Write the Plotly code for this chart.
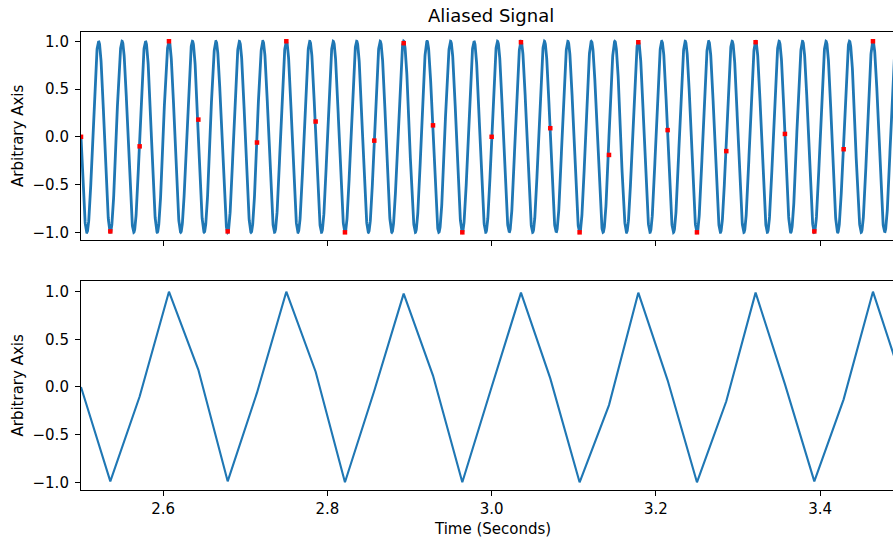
import numpy as np
import plotly.graph_objects as go

# ---- data ----
# continuous signal: a unit-amplitude sine at 35 cycles per second
signal_freq_hz = 35.0
signal_amplitude = 1.0

# sample instants (about 28 per second) and sampled values
sample_times = [2.5000, 2.5357, 2.5714, 2.6071, 2.6429, 2.6786, 2.7143, 2.7500,
                2.7857, 2.8214, 2.8571, 2.8929, 2.9286, 2.9643, 3.0000, 3.0357,
                3.0714, 3.1071, 3.1429, 3.1786, 3.2143, 3.2500, 3.2857, 3.3214,
                3.3571, 3.3929, 3.4286, 3.4643, 3.5000]
sample_values = [0.00, -0.99, -0.10, 1.00, 0.18, -0.99, -0.06, 1.00,
                 0.16, -1.00, -0.04, 0.98, 0.12, -1.00, 0.00, 0.99,
                 0.09, -1.00, -0.19, 0.99, 0.07, -1.00, -0.15, 0.99,
                 0.03, -0.99, -0.13, 1.00, 0.06]

x_tick_vals = [2.6, 2.8, 3.0, 3.2, 3.4]
x_tick_text = ["2.6", "2.8", "3.0", "3.2", "3.4"]
y_tick_vals = [-1.0, -0.5, 0.0, 0.5, 1.0]
y_tick_text = ["\u22121.0", "\u22120.5", "0.0", "0.5", "1.0"]

title_text = "Aliased Signal"
x_label = "Time (Seconds)"
y_label = "Arbitrary Axis"

# ---- figure ----
t_dense = np.linspace(2.5, 3.5, 6001)
y_dense = signal_amplitude * np.sin(2 * np.pi * signal_freq_hz * t_dense)

BLUE = "#1f77b4"
FONT = "DejaVu Sans"
FS = 15

fig = go.Figure()
fig.add_trace(go.Scatter(x=t_dense, y=y_dense, mode="lines",
                         line=dict(color=BLUE, width=2.8),
                         xaxis="x", yaxis="y", hoverinfo="skip"))
fig.add_trace(go.Scatter(x=sample_times, y=sample_values, mode="markers",
                         marker=dict(color="red", symbol="square", size=4.5,
                                     line=dict(width=0)),
                         xaxis="x", yaxis="y"))
fig.add_trace(go.Scatter(x=sample_times, y=sample_values, mode="lines",
                         line=dict(color=BLUE, width=2.1),
                         xaxis="x2", yaxis="y2"))

x_range = [2.5, 3.4887]
axis_common = dict(showgrid=False, zeroline=False, showline=True,
                   linecolor="black", linewidth=1.1, ticks="outside",
                   ticklen=5, tickwidth=1.1, tickcolor="black",
                   tickfont=dict(family=FONT, size=FS, color="black"))

fig.update_layout(
    width=893, height=540,
    margin=dict(l=81, r=0, t=32, b=50),
    paper_bgcolor="white", plot_bgcolor="white",
    showlegend=False,
    font=dict(family=FONT, size=FS, color="black"),
    xaxis=dict(domain=[0, 1], range=x_range, anchor="y", mirror=True,
               tickvals=x_tick_vals, ticktext=x_tick_text,
               showticklabels=False, **axis_common),
    yaxis=dict(domain=[0.5459, 1.0], range=[-1.08, 1.097], anchor="x",
               tickvals=y_tick_vals, ticktext=y_tick_text,
               ticklabelstandoff=3, **axis_common),
    xaxis2=dict(domain=[0, 1], range=x_range, anchor="y2", mirror=True,
                tickvals=x_tick_vals, ticktext=x_tick_text, **axis_common),
    yaxis2=dict(domain=[0, 0.4563], range=[-1.081, 1.112], anchor="x2",
                tickvals=y_tick_vals, ticktext=y_tick_text,
                ticklabelstandoff=3, **axis_common),
)

# title, axis labels as annotations positioned like the reference
ann = []
ann.append(dict(text=title_text, x=0.505, xref="paper", y=1.0, yref="paper",
                xanchor="center", yanchor="bottom", yshift=4, showarrow=False,
                font=dict(family=FONT, size=18, color="black")))
ann.append(dict(text=x_label, x=0.507, xref="paper", y=0, yref="paper",
                xanchor="center", yanchor="top", yshift=-28, showarrow=False,
                font=dict(family=FONT, size=FS, color="black")))
for yc in [(0.5459 + 1.0) / 2, 0.4563 / 2]:
    ann.append(dict(text=y_label, x=(18 - 81) / 812, xref="paper",
                    y=yc, yref="paper", xanchor="center", yanchor="middle",
                    textangle=-90, showarrow=False,
                    font=dict(family=FONT, size=FS, color="black")))
fig.update_layout(annotations=ann)

fig.write_html("out.html",
               config={"displayModeBar": False},
               post_script="document.body.style.margin='0';"
                           "document.body.style.padding='0';"
                           "document.body.style.overflow='hidden';")
